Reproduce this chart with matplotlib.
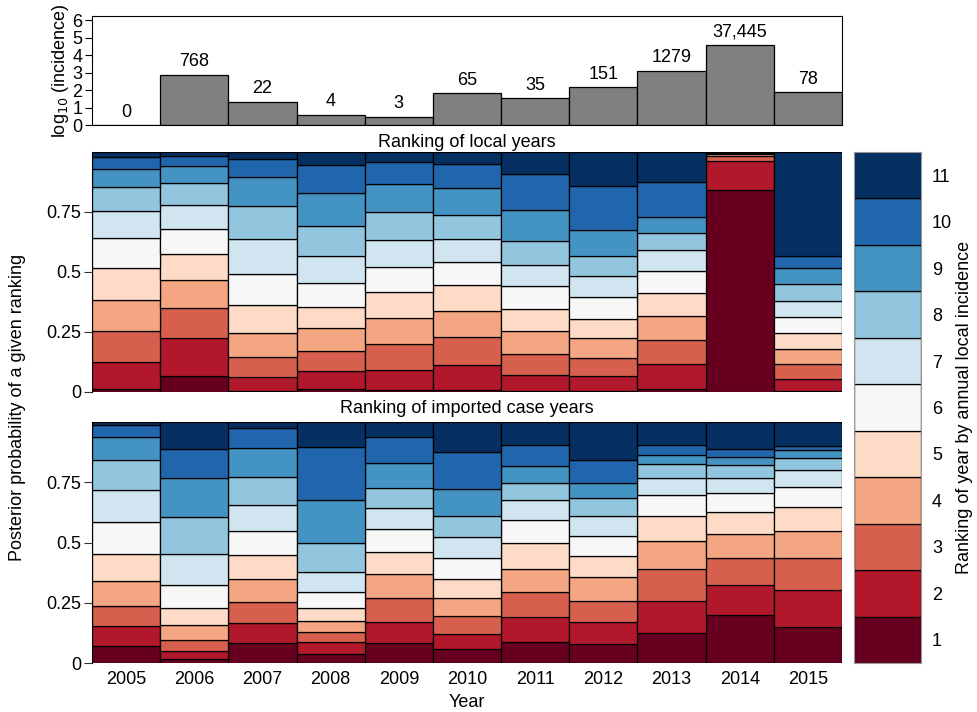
import matplotlib
matplotlib.use("Agg")
import matplotlib.pyplot as plt
import numpy as np

plt.rcParams['font.family'] = ['Liberation Sans', 'DejaVu Sans']

years = [2005, 2006, 2007, 2008, 2009, 2010, 2011, 2012, 2013, 2014, 2015]
incidence_labels = ["0", "768", "22", "4", "3", "65", "35", "151", "1279", "37,445", "78"]
log_incidence = [0.0, 2.885, 1.342, 0.602, 0.477, 1.813, 1.544, 2.179, 3.107, 4.573, 1.892]
ranks = list(range(1, 12))

# Posterior probability of each ranking (rank 1..11) per year, local years
local_prob = [
    [0.011, 0.113, 0.130, 0.129, 0.132, 0.125, 0.113, 0.101, 0.077, 0.048, 0.021],
    [0.068, 0.158, 0.125, 0.114, 0.110, 0.104, 0.102, 0.090, 0.069, 0.042, 0.018],
    [0.003, 0.058, 0.083, 0.102, 0.117, 0.130, 0.145, 0.137, 0.121, 0.075, 0.029],
    [0.011, 0.075, 0.085, 0.094, 0.089, 0.100, 0.111, 0.127, 0.137, 0.117, 0.054],
    [0.010, 0.083, 0.108, 0.107, 0.107, 0.107, 0.110, 0.119, 0.116, 0.090, 0.043],
    [0.010, 0.101, 0.118, 0.110, 0.108, 0.095, 0.094, 0.102, 0.112, 0.101, 0.049],
    [0.003, 0.069, 0.086, 0.095, 0.094, 0.095, 0.089, 0.097, 0.130, 0.150, 0.092],
    [0.004, 0.061, 0.077, 0.083, 0.081, 0.088, 0.088, 0.083, 0.111, 0.181, 0.143],
    [0.013, 0.105, 0.100, 0.100, 0.095, 0.093, 0.086, 0.071, 0.065, 0.146, 0.126],
    [0.843, 0.118, 0.023, 0.006, 0.004, 0.002, 0.001, 0.001, 0.001, 0.0005, 0.0005],
    [0.006, 0.048, 0.063, 0.062, 0.067, 0.065, 0.070, 0.069, 0.067, 0.048, 0.435],
]

# Posterior probability of each ranking per year, imported case years
imported_prob = [
    [0.069, 0.083, 0.086, 0.101, 0.115, 0.130, 0.133, 0.127, 0.095, 0.050, 0.011],
    [0.017, 0.034, 0.046, 0.060, 0.073, 0.093, 0.129, 0.155, 0.159, 0.121, 0.113],
    [0.083, 0.085, 0.085, 0.096, 0.098, 0.100, 0.110, 0.116, 0.119, 0.082, 0.026],
    [0.039, 0.047, 0.044, 0.046, 0.053, 0.067, 0.081, 0.122, 0.178, 0.219, 0.104],
    [0.083, 0.089, 0.098, 0.098, 0.093, 0.094, 0.089, 0.083, 0.103, 0.106, 0.064],
    [0.058, 0.064, 0.071, 0.076, 0.080, 0.086, 0.086, 0.088, 0.114, 0.154, 0.123],
    [0.087, 0.104, 0.104, 0.097, 0.105, 0.096, 0.082, 0.072, 0.071, 0.086, 0.096],
    [0.080, 0.090, 0.088, 0.097, 0.088, 0.085, 0.083, 0.072, 0.065, 0.094, 0.158],
    [0.126, 0.132, 0.130, 0.118, 0.102, 0.091, 0.070, 0.056, 0.036, 0.042, 0.097],
    [0.201, 0.122, 0.113, 0.100, 0.091, 0.078, 0.064, 0.053, 0.033, 0.031, 0.114],
    [0.150, 0.151, 0.135, 0.112, 0.100, 0.082, 0.071, 0.050, 0.033, 0.016, 0.100],
]

rank_colors = ['#67001f', '#b2182b', '#d6604d', '#f4a582', '#fddbc7', '#f7f7f7',
               '#d1e5f0', '#92c5de', '#4393c3', '#2166ac', '#053061']

W, H = 978, 712
fig = plt.figure(figsize=(W / 100, H / 100), dpi=100)


def frac(x0, y0, x1, y1):
    return [x0 / W, 1 - y1 / H, (x1 - x0) / W, (y1 - y0) / H]


FS = 13
x = np.arange(len(years))

# Top panel
ax0 = fig.add_axes(frac(92, 16, 842, 125))
ax0.bar(x, log_incidence, width=1.0, color='#808080', edgecolor='black', linewidth=0.9)
for xi, v, lab in zip(x, log_incidence, incidence_labels):
    ax0.text(xi, v + 0.25, lab, ha='center', va='bottom', fontsize=FS)
ax0.set_xlim(-0.5, 10.5)
ax0.set_ylim(0, 6.25)
ax0.set_yticks(range(0, 7))
ax0.set_xticks([])
ax0.tick_params(axis='y', labelsize=FS, length=5, pad=2)
ax0.set_ylabel('log$_{10}$ (incidence)', fontsize=FS, labelpad=1)
ax0.set_title('Ranking of local years', fontsize=FS, pad=4, y=-0.25)


def stacked(ax, probs):
    probs = np.array(probs)
    bottom = np.zeros(len(years))
    for k in range(len(ranks)):
        ax.bar(x, probs[:, k], bottom=bottom, width=1.0, color=rank_colors[k],
               edgecolor='black', linewidth=0.9)
        bottom += probs[:, k]
    ax.set_xlim(-0.5, 10.5)
    ax.set_ylim(0, 1)
    ax.set_yticks([0, 0.25, 0.5, 0.75])
    ax.set_yticklabels(['0', '0.25', '0.5', '0.75'])
    for s in ['top', 'right', 'bottom']:
        ax.spines[s].set_visible(False)
    ax.tick_params(axis='y', labelsize=FS, length=6, pad=2, color='#333333')


ax1 = fig.add_axes(frac(92, 152, 842, 392))
stacked(ax1, local_prob)
ax1.set_xticks([])
ax1.text(0.5, -0.035, 'Ranking of imported case years', transform=ax1.transAxes,
         ha='center', va='top', fontsize=FS)

ax2 = fig.add_axes(frac(92, 422, 842, 663))
stacked(ax2, imported_prob)
ax2.set_xticks(x)
ax2.set_xticklabels([str(y) for y in years])
ax2.tick_params(axis='x', labelsize=FS, length=0, pad=6)
ax2.set_xlabel('Year', fontsize=FS, labelpad=4)

fig.text(18 / W, 1 - 407 / H, 'Posterior probability of a given ranking', rotation=90,
         ha='center', va='center', fontsize=FS)

# Colour key
axc = fig.add_axes(frac(854, 152, 921, 663))
axc.bar([0] * len(ranks), [1] * len(ranks), bottom=np.arange(len(ranks)), width=1.0,
        color=rank_colors, edgecolor='black', linewidth=0.9, align='edge')
axc.set_xlim(0, 1)
axc.set_ylim(0, len(ranks))
axc.set_xticks([])
axc.set_yticks(np.arange(len(ranks)) + 0.5)
axc.set_yticklabels([str(r) for r in ranks])
axc.yaxis.tick_right()
axc.tick_params(axis='y', labelsize=FS, length=0, pad=8)
for s in axc.spines.values():
    s.set_edgecolor('#999999')
fig.text(965 / W, 1 - 407 / H, 'Ranking of year by annual local incidence', rotation=90,
         ha='center', va='center', fontsize=FS)

fig.savefig('out.png', dpi=100)
